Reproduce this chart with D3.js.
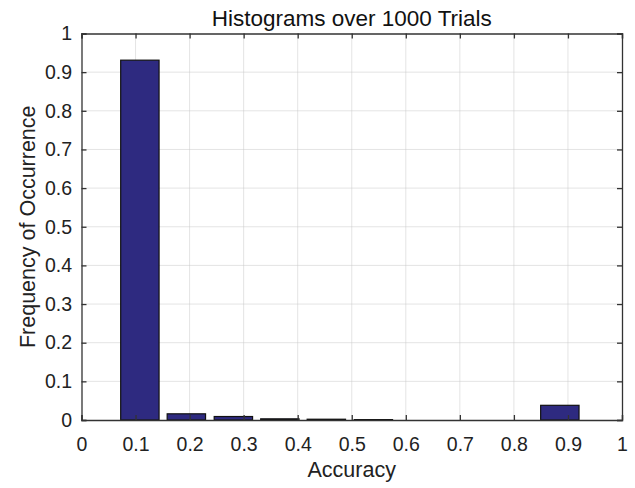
<!DOCTYPE html>
<html>
<head>
<meta charset="utf-8">
<script src="https://cdn.jsdelivr.net/npm/d3@7"></script>
<style>
  body { margin: 0; background: #fff; }
  svg { font-family: "Liberation Sans", Arial, sans-serif; }
</style>
</head>
<body>
<div id="chart"></div>
<script>
// histogram bins (centres) and relative frequencies
const binCenters = [0.108, 0.194, 0.281, 0.367, 0.453, 0.540, 0.626, 0.712, 0.799, 0.885];
const frequencies = [0.931, 0.016, 0.009, 0.003, 0.002, 0.001, 0, 0, 0, 0.038];
const xTicks = [0, 0.1, 0.2, 0.3, 0.4, 0.5, 0.6, 0.7, 0.8, 0.9, 1];
const yTicks = [0, 0.1, 0.2, 0.3, 0.4, 0.5, 0.6, 0.7, 0.8, 0.9, 1];
const barWidth = 0.071;

const width = 635, height = 488;
const margin = {top: 33.5, right: 13, bottom: 68, left: 81.5};
const innerW = width - margin.left - margin.right;
const innerH = height - margin.top - margin.bottom;

const svg = d3.select('#chart').append('svg')
  .attr('width', width)
  .attr('height', height);

const g = svg.append('g')
  .attr('transform', `translate(${margin.left},${margin.top})`);

const x = d3.scaleLinear().domain([0, 1]).range([0, innerW]);
const y = d3.scaleLinear().domain([0, 1]).range([innerH, 0]);

// grid
g.append('g').selectAll('line.gx')
  .data(xTicks.slice(1, -1))
  .join('line')
  .attr('x1', d => x(d)).attr('x2', d => x(d))
  .attr('y1', 0).attr('y2', innerH)
  .attr('stroke', '#c8c8c8')
  .attr('stroke-dasharray', '1,1');
g.append('g').selectAll('line.gy')
  .data(yTicks.slice(1, -1))
  .join('line')
  .attr('y1', d => y(d)).attr('y2', d => y(d))
  .attr('x1', 0).attr('x2', innerW)
  .attr('stroke', '#c8c8c8')
  .attr('stroke-dasharray', '1,1');

// bars
g.append('g').selectAll('rect')
  .data(binCenters.map((c, i) => ({c, f: frequencies[i]})).filter(d => d.f > 0))
  .join('rect')
  .attr('x', d => x(d.c - barWidth / 2))
  .attr('width', d => x(barWidth) - x(0))
  .attr('y', d => y(d.f))
  .attr('height', d => y(0) - y(d.f))
  .attr('fill', '#2e2a80')
  .attr('stroke', '#111')
  .attr('stroke-width', 1.2);

// axes (ticks pointing inward, box on)
const tickLen = 5;
const xAxis = g.append('g')
  .attr('transform', `translate(0,${innerH})`)
  .call(d3.axisBottom(x).tickValues(xTicks).tickSize(-tickLen).tickPadding(17).tickFormat(d3.format('')));
const xTop = g.append('g')
  .call(d3.axisTop(x).tickValues(xTicks).tickSize(-tickLen).tickFormat(''));
const yAxis = g.append('g')
  .call(d3.axisLeft(y).tickValues(yTicks).tickSize(-tickLen).tickPadding(9.5).tickFormat(d3.format('')));
const yRight = g.append('g')
  .attr('transform', `translate(${innerW},0)`)
  .call(d3.axisRight(y).tickValues(yTicks).tickSize(-tickLen).tickFormat(''));

[xAxis, xTop, yAxis, yRight].forEach(a => {
  a.select('.domain').attr('stroke', '#333').attr('stroke-width', 1.3);
  a.selectAll('.tick line').attr('stroke', '#333').attr('stroke-width', 1.3);
  a.selectAll('.tick text').attr('fill', '#222').style('font-size', '19.5px');
});

// title and labels
svg.append('text')
  .attr('x', margin.left + innerW / 2)
  .attr('y', 26)
  .attr('text-anchor', 'middle')
  .style('font-size', '22.5px')
  .attr('fill', '#111')
  .text('Histograms over 1000 Trials');

svg.append('text')
  .attr('x', margin.left + innerW / 2)
  .attr('y', 477)
  .attr('text-anchor', 'middle')
  .style('font-size', '21.5px')
  .attr('fill', '#222')
  .text('Accuracy');

svg.append('text')
  .attr('transform', `translate(35,${margin.top + innerH / 2}) rotate(-90)`)
  .attr('text-anchor', 'middle')
  .style('font-size', '21.5px')
  .attr('fill', '#222')
  .text('Frequency of Occurrence');
</script>
</body>
</html>
